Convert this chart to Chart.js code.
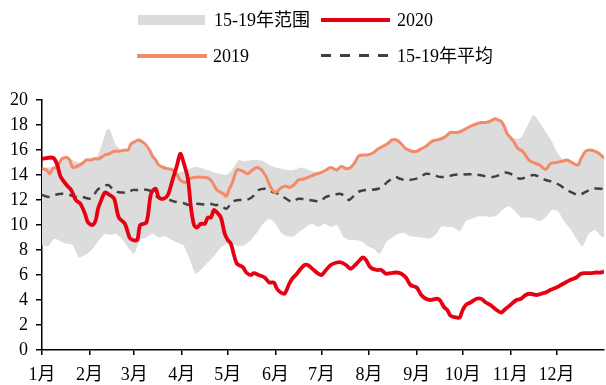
<!DOCTYPE html>
<html>
<head>
<meta charset="utf-8">
<script src="https://cdn.jsdelivr.net/npm/chart.js@4.4.1/dist/chart.umd.min.js"></script>
<style>
  html, body { margin: 0; padding: 0; background: #fff; }
  #wrap { position: relative; width: 606px; height: 385px; overflow: hidden; }
  #chart { position: absolute; left: 0; top: 0; }
  .lg-text { position: absolute; font-family: 'Liberation Serif', 'Noto Sans CJK SC', serif; font-size: 18px; line-height: 18px; color: #000; white-space: nowrap; }
  .lg-swatch { position: absolute; }
</style>
</head>
<body>
<div id="wrap">
  <canvas id="chart" width="606" height="385"></canvas>
  <div class="lg-swatch" style="left:138px;top:15px;width:67px;height:10px;background:#dcdcdc;"></div>
  <div class="lg-text" style="left:214px;top:11px;">15-19年范围</div>
  <div class="lg-swatch" style="left:321px;top:18px;width:69px;height:4px;background:#e60012;"></div>
  <div class="lg-text" style="left:397px;top:11px;">2020</div>
  <div class="lg-swatch" style="left:137px;top:54px;width:70px;height:4px;background:#f38a68;"></div>
  <div class="lg-text" style="left:213px;top:47px;">2019</div>
  <div class="lg-swatch" style="left:321px;top:54px;width:67px;height:3px;background:repeating-linear-gradient(90deg,#404040 0 10px,transparent 10px 19px);"></div>
  <div class="lg-text" style="left:397px;top:47px;">15-19年平均</div>
</div>
<script>
// Month axis: tick at the first day of each month (day-of-year index)
const monthLabels = ['1月','2月','3月','4月','5月','6月','7月','8月','9月','10月','11月','12月'];
const monthStartDays = [0,31,60,91,121,152,182,213,244,274,305,335];
const yTickValues = [0,2,4,6,8,10,12,14,16,18,20];

// 2015-2019 range (high / low)
const bandDays = [0,4,8,12,16,20,24,28,32,36,
  40,42,44,48,52,56,60,64,68,72,
  76,80,84,88,92,96,100,104,108,112,
  116,120,124,128,132,136,140,144,148,152,
  156,160,164,168,172,176,180,184,188,192,
  196,200,204,208,212,216,220,224,228,232,
  236,240,244,248,252,256,260,264,268,272,
  276,280,284,288,292,296,300,304,308,312,
  316,320,324,328,332,336,340,344,348,352,
  356,360,364,366];
const bandHigh = [14.6,14.6,14.7,15.0,15.5,15.2,15.0,15.2,15.3,15.5,
  16.8,17.6,17.7,16.4,16.0,16.1,16.7,16.9,16.4,15.6,
  14.9,14.7,14.5,14.2,14.3,14.5,14.65,14.55,14.4,14.2,
  14.1,14.0,14.45,15.2,15.1,15.2,15.2,15.1,14.8,14.6,
  14.5,14.4,14.4,14.6,14.5,14.3,14.2,14.4,14.65,14.5,
  14.7,14.65,15.1,15.6,15.65,15.85,16.2,16.45,16.85,16.8,
  16.3,15.95,15.95,16.2,16.5,16.85,16.95,17.2,17.45,17.5,
  17.75,17.95,18.15,18.25,18.35,18.5,18.3,17.3,16.9,17.0,
  17.9,18.8,18.25,17.45,16.7,15.7,15.15,15.15,14.9,15.5,
  16.0,15.9,15.7,15.45];
const bandLow = [8.4,8.3,8.9,8.7,8.5,8.4,7.4,7.6,7.95,8.6,
  9.2,9.3,9.2,9.3,8.9,8.2,7.7,8.8,9.0,9.3,
  9.0,9.1,8.85,8.6,8.4,7.3,6.1,6.5,7.0,7.5,
  8.15,8.5,8.5,8.3,8.4,8.8,9.4,10.1,10.5,10.1,
  9.35,9.1,9.1,9.5,9.85,10.1,9.85,10.1,9.85,10.0,
  9.1,8.8,8.8,8.7,8.3,8.1,7.7,8.6,9.0,9.3,
  9.35,9.1,9.05,9.0,8.9,9.2,9.85,9.85,9.8,9.5,
  10.3,10.5,10.7,10.7,10.65,10.75,11.2,11.5,11.1,10.6,
  10.6,10.55,10.3,10.6,11.2,11.1,10.3,9.7,8.9,8.3,
  9.3,9.6,9.1,9.0];

// 2015-2019 average
const avgDays = [0,4,8,13,18,22,26,31,33,36,39,43,46,49,52,56,59,62,66,69,72,75,79,83,87,92,96,100,105,109,113,116,120,124,128,133,137,141,146,150,154,159,163,167,174,181,185,190,194,198,200,204,207,211,214,219,222,225,230,233,237,242,246,250,255,259,263,268,272,276,281,285,289,294,298,302,307,311,315,320,324,328,333,337,341,346,350,354,359,366];
const avgValues = [12.4,12.25,12.4,12.5,12.4,12.25,12.25,12.1,12.25,12.8,13.05,13.2,12.9,12.65,12.6,12.6,12.8,12.8,12.85,12.8,12.65,12.25,12.1,12.0,11.85,11.75,11.6,11.7,11.65,11.7,11.6,11.6,11.3,11.85,12.0,12.0,12.25,12.8,12.9,12.65,12.5,12.1,11.85,12.1,12.0,11.9,12.25,12.4,12.5,12.25,12.0,12.45,12.7,12.8,12.8,12.9,13.1,13.45,13.85,13.7,13.6,13.65,13.8,14.1,14.0,13.85,13.85,14.0,14.05,14.05,14.05,14.0,13.9,13.85,14.0,14.2,14.0,13.7,13.8,14.0,13.85,13.6,13.45,13.2,12.85,12.55,12.4,12.65,12.9,12.9];

// 2019
const days2019 = [0,3,5,7,9,11,13,16,18,20,23,26,29,32,34,37,41,44,47,50,54,56,58,61,63,67,70,72,74,76,79,82,85,88,90,93,96,99,102,106,109,111,114,118,120,122,124,127,131,134,137,140,143,146,149,152,156,159,161,164,167,171,174,179,182,185,188,192,195,198,201,204,206,209,212,216,219,222,225,228,231,234,237,241,244,247,250,254,257,260,263,266,270,273,276,279,283,286,289,292,295,297,299,301,303,307,310,313,317,320,324,328,331,335,339,342,345,349,351,354,357,361,364,366];
const values2019 = [14.5,14.4,14.1,14.5,14.6,14.9,15.3,15.4,15.2,14.6,14.7,14.9,15.2,15.2,15.3,15.3,15.6,15.7,15.9,15.9,16.0,16.0,16.5,16.7,16.8,16.5,16.0,15.5,15.2,14.8,14.6,14.5,14.4,14.0,13.6,13.4,13.7,13.8,13.85,13.8,13.7,13.4,12.8,12.5,12.3,12.9,13.4,14.4,14.3,14.1,14.4,14.6,14.4,13.85,13.0,12.6,13.0,13.1,13.0,13.2,13.6,13.7,13.85,14.1,14.2,14.4,14.6,14.4,14.7,14.5,14.6,15.05,15.5,15.6,15.6,15.8,16.1,16.3,16.5,16.8,16.8,16.5,16.1,15.9,15.9,16.1,16.3,16.7,16.8,16.9,17.1,17.4,17.4,17.5,17.7,17.9,18.1,18.2,18.2,18.3,18.5,18.4,18.3,17.9,17.3,16.7,16.1,15.9,15.2,15.0,14.8,14.45,14.9,15.0,15.1,15.2,15.0,14.8,15.3,15.9,16.0,15.85,15.6,15.35];

// 2020
const days2020 = [0,6,8,10,12,16,19,22,25,28,30,33,35,36.5,38,41,44,47,50,54,57,59,62,64,68,71,74,76,79,82,85,88,90,92,95,97,99,101,103.5,106,108,110,112,114,116.5,119,121,123,125,127,131,133,136,138,141,145,148,151,153,155.5,158,161,163,166,168.5,171,173,177,180,182,185,188,192,195,198,201,204,207,209,211,214,218,221,224,227,231,234,237,240,244,247,250,253,257,259,262,264,266,270,272,274,276,279,283,286,289,292,296,299,302,305,309,312,315,318,322,325,328,331,335,338,341,344,348,351,354,357,361,364,366];
const values2020 = [15.3,15.4,15.3,14.8,13.9,13.2,12.8,12.0,11.7,10.9,10.2,10.0,10.4,11.3,11.8,12.6,12.4,12.1,10.6,10.1,9.0,8.8,8.8,10.0,10.2,12.5,12.9,12.2,12.1,12.4,13.6,14.8,15.7,15.1,13.7,11.4,10.0,9.8,10.1,10.1,10.6,10.6,11.2,11.0,10.6,9.3,8.8,8.5,7.6,6.9,6.6,6.2,6.0,6.15,6.0,5.8,5.4,5.4,4.9,4.6,4.5,5.3,5.7,6.1,6.5,6.8,6.8,6.4,6.1,6.0,6.4,6.8,7.0,7.0,6.8,6.5,6.8,7.2,7.4,7.2,6.6,6.4,6.4,6.1,6.15,6.2,6.1,5.8,5.2,5.0,4.4,4.1,4.0,4.1,4.0,3.4,3.2,2.75,2.6,2.6,3.2,3.6,3.8,4.1,4.1,3.8,3.6,3.2,3.0,3.3,3.6,4.0,4.1,4.4,4.5,4.4,4.5,4.6,4.8,5.0,5.2,5.4,5.6,5.8,6.1,6.15,6.15,6.2,6.2,6.3];

function toPoints(xs, ys) {
  return xs.map((x, i) => ({ x: x, y: ys[i] }));
}

const FONT = "'Liberation Serif', 'Noto Sans CJK SC', serif";
Chart.defaults.font.family = FONT;
Chart.defaults.font.size = 18;
Chart.defaults.color = '#000';

new Chart(document.getElementById('chart'), {
  type: 'line',
  data: {
    datasets: [
      {
        label: '15-19年范围 上限',
        data: toPoints(bandDays, bandHigh),
        borderWidth: 0,
        borderColor: 'rgba(0,0,0,0)',
        pointRadius: 0,
        fill: false,
        tension: 0.2,
        order: 10
      },
      {
        label: '15-19年范围',
        data: toPoints(bandDays, bandLow),
        borderWidth: 0,
        borderColor: 'rgba(0,0,0,0)',
        backgroundColor: '#dcdcdc',
        pointRadius: 0,
        fill: '-1',
        tension: 0.2,
        order: 9
      },
      {
        label: '15-19年平均',
        data: toPoints(avgDays, avgValues),
        borderColor: '#404040',
        borderWidth: 2.5,
        borderDash: [8, 6],
        pointRadius: 0,
        fill: false,
        tension: 0.3,
        order: 3
      },
      {
        label: '2019',
        data: toPoints(days2019, values2019),
        borderColor: '#f38a68',
        borderWidth: 3,
        pointRadius: 0,
        fill: false,
        tension: 0.3,
        order: 2
      },
      {
        label: '2020',
        data: toPoints(days2020, values2020),
        borderColor: '#e60012',
        borderWidth: 3.8,
        pointRadius: 0,
        fill: false,
        tension: 0.3,
        order: 1
      }
    ]
  },
  options: {
    responsive: false,
    devicePixelRatio: 1,
    animation: false,
    events: [],
    layout: { padding: { top: 100, right: 2, left: 0, bottom: 0 } },
    plugins: {
      legend: { display: false },
      tooltip: { enabled: false }
    },
    scales: {
      x: {
        type: 'linear',
        min: 0,
        max: 366,
        afterBuildTicks: (axis) => { axis.ticks = monthStartDays.map(v => ({ value: v })); },
        afterFit: (axis) => { axis.height = 35; },
        ticks: {
          autoSkip: false,
          maxRotation: 0,
          padding: 9,
          callback: (v) => monthLabels[monthStartDays.indexOf(v)]
        },
        grid: { drawOnChartArea: false, drawTicks: true, tickLength: 5, color: '#000', lineWidth: 1.5 },
        border: { display: true, color: '#000', width: 1.5 }
      },
      y: {
        min: 0,
        max: 20,
        afterBuildTicks: (axis) => { axis.ticks = yTickValues.map(v => ({ value: v })); },
        afterFit: (axis) => { axis.width = 42; },
        ticks: { padding: 8 },
        grid: { drawOnChartArea: false, drawTicks: true, tickLength: 6, color: '#000', lineWidth: 1.5 },
        border: { display: true, color: '#000', width: 1.5 }
      }
    }
  }
});
</script>
</body>
</html>
